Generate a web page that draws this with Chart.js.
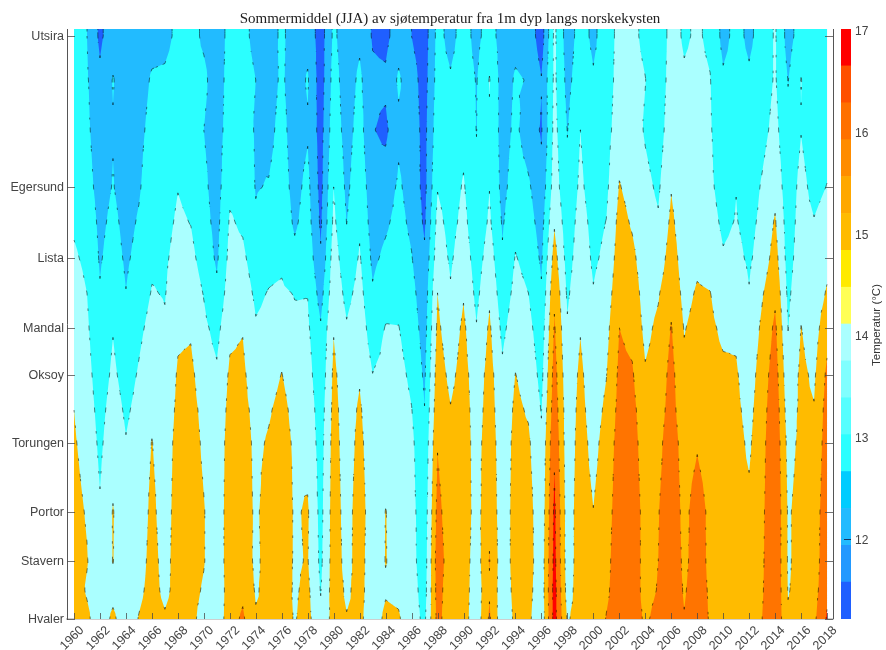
<!DOCTYPE html>
<html><head><meta charset="utf-8">
<style>html,body{margin:0;padding:0;background:#fff;overflow:hidden}canvas{position:absolute;top:0}#main{left:0}#bar{left:836px}</style>
<script src="https://cdn.jsdelivr.net/npm/chart.js@4"></script></head><body>
<canvas id="main" width="886" height="650"></canvas>
<canvas id="bar" width="50" height="650"></canvas>
<script>
const titleText='Sommermiddel (JJA) av sjøtemperatur fra 1m dyp langs norskekysten';
const barTitle='Temperatur (°C)';
const stationNames=['Utsira','Egersund','Lista','Mandal','Oksoy','Torungen','Portor','Stavern','Hvaler'];
const stationPos=[7,158,229,299,346,414,483,532,590];
const rowPos=[7,51,101,158,193,229,264,299,346,381,414,483,532,561,590];
const yearTicks=[1960,1962,1964,1966,1968,1970,1972,1974,1976,1978,1980,1982,1984,1986,1988,1990,1992,1994,1996,1998,2000,2002,2004,2006,2008,2010,2012,2014,2016,2018];
const years=[];
const t1960=[13.3,13.4,13.6,13.8,13.9,14.1,14.3,14.5,14.8,15.0,15.1,15.3,15.4,15.5,15.6];
const t1961=[13.0,13.1,13.2,13.4,13.7,13.85,14.0,14.15,14.35,14.5,14.65,14.92,15.05,14.9,15.2];
const t1962=[11.8,12.2,12.4,12.6,12.75,12.9,13.07,13.2,13.45,13.65,13.8,14.1,14.3,14.5,14.4];
const t1963=[12.6,13.05,12.95,13.05,13.25,13.45,13.7,13.95,14.2,14.45,14.65,15.05,15.03,14.7,15.2];
const t1964=[12.5,12.5,12.5,12.55,12.7,12.85,13.02,13.3,13.6,13.85,14.05,14.3,14.3,14.4,14.4];
const t1965=[12.5,12.6,12.75,12.9,13.1,13.3,13.55,13.8,14.1,14.3,14.45,14.5,14.6,14.8,15.05];
const t1966=[12.7,13.1,13.3,13.55,13.7,13.85,14.05,14.3,14.6,14.8,15.03,15.2,15.3,15.3,15.4];
const t1967=[12.75,13.15,13.35,13.55,13.7,13.85,13.95,14.1,14.3,14.45,14.55,14.6,14.7,14.8,15.1];
const t1968=[13.2,13.4,13.6,13.97,14.15,14.35,14.6,14.85,15.1,15.2,15.3,15.4,15.4,15.3,15.4];
const t1969=[13.3,13.35,13.5,13.75,13.97,14.25,14.55,14.9,15.2,15.3,15.4,15.5,15.4,15.3,15.3];
const t1970=[12.85,13.2,13.0,13.2,13.35,13.6,13.95,14.2,14.5,14.75,14.85,15.05,15.05,14.9,14.6];
const t1971=[12.5,12.5,12.55,12.6,12.7,12.85,13.2,13.7,14.15,14.3,14.4,14.4,14.4,14.3,14.3];
const t1972=[13.3,13.4,13.5,13.8,14.1,14.3,14.55,14.8,15.15,15.3,15.4,15.5,15.5,15.5,15.6];
const t1973=[13.2,13.3,13.5,13.7,13.85,14.2,14.55,14.95,15.2,15.3,15.4,15.5,15.6,15.8,16.15];
const t1974=[12.8,13.0,12.9,12.95,13.1,13.45,13.8,14.1,14.4,14.7,14.8,14.85,14.8,14.9,15.1];
const t1975=[12.5,12.6,12.75,13.05,13.35,13.7,14.05,14.25,14.6,14.9,15.1,15.4,15.4,15.3,15.2];
const t1976=[13.2,13.15,13.3,13.4,13.6,13.8,14.15,14.55,15.03,15.3,15.4,15.6,15.5,15.4,15.3];
const t1977=[12.5,12.5,12.55,12.7,12.85,13.25,13.95,14.2,14.5,14.7,14.85,14.9,14.9,14.9,14.95];
const t1978=[12.7,13.1,12.9,13.25,13.4,13.65,13.97,14.15,14.4,14.6,14.7,15.1,15.05,15.2,15.3];
const t1979=[11.5,11.5,11.6,11.7,11.85,12.1,12.6,13.1,13.3,13.5,13.6,13.7,13.8,13.95,14.2];
const t1980=[13.2,13.4,13.6,14.0,14.2,14.5,14.7,14.95,15.2,15.3,15.4,15.5,15.5,15.5,15.4];
const t1981=[12.4,12.5,12.6,12.8,12.98,13.3,13.7,14.1,14.4,14.5,14.5,14.6,14.7,14.85,15.05];
const t1982=[12.8,13.2,13.4,13.65,13.85,14.1,14.35,14.6,14.9,15.15,15.3,15.5,15.4,15.3,15.2];
const t1983=[11.9,12.2,12.05,12.4,12.55,12.8,13.1,13.45,14.02,14.2,14.3,14.4,14.4,14.5,14.5];
const t1984=[11.7,12.2,11.8,12.5,12.85,13.2,13.6,14.05,14.3,14.5,14.6,15.02,15.03,14.9,15.2];
const t1985=[12.6,13.15,12.8,13.15,13.3,13.5,13.7,14.03,14.3,14.5,14.6,14.7,14.7,14.8,15.1];
const t1986=[12.0,12.4,12.5,12.6,12.8,13.05,13.3,13.5,13.8,14.03,14.2,14.3,14.3,14.4,14.4];
const t1987=[11.5,11.6,11.7,11.7,11.85,12.15,12.4,12.6,12.85,13.02,13.2,13.4,13.5,13.6,13.8];
const t1988=[13.3,13.4,13.6,13.95,14.3,14.6,15.0,15.2,15.5,15.7,15.95,16.3,16.5,16.4,16.3];
const t1989=[12.7,13.1,13.3,13.5,13.65,13.85,14.1,14.4,14.75,15.05,15.2,15.4,15.5,15.4,15.4];
const t1990=[13.4,13.5,13.7,14.1,14.3,14.6,14.92,15.2,15.4,15.5,15.5,15.6,15.5,15.5,15.4];
const t1991=[12.7,12.95,12.98,13.15,13.3,13.5,13.75,14.05,14.4,14.5,14.6,14.6,14.5,14.4,14.4];
const t1992=[13.5,14.05,13.9,13.98,14.15,14.5,14.85,15.15,15.4,15.5,15.6,15.8,16.05,15.9,16.15];
const t1993=[12.5,12.55,12.6,12.7,12.9,13.1,13.4,13.75,14.2,14.3,14.4,14.4,14.4,14.4,14.3];
const t1994=[12.75,13.1,13.2,13.5,13.75,14.05,14.3,14.6,15.02,15.2,15.3,15.4,15.4,15.3,15.2];
const t1995=[12.6,12.95,12.5,13.15,13.4,13.7,14.0,14.3,14.65,14.9,15.15,15.4,15.4,15.3,15.2];
const t1996=[11.5,12.05,11.9,12.3,12.6,12.85,13.1,13.4,13.7,13.95,14.15,14.3,14.4,14.4,14.3];
const t1997=[14.2,14.2,14.3,14.5,14.9,15.4,15.85,16.1,16.4,16.6,16.85,17.2,17.3,17.4,17.4];
const t1998=[12.5,12.7,12.97,13.2,13.4,13.6,13.85,14.1,14.3,14.4,14.4,14.5,14.5,14.6,14.9];
const t1999=[13.4,13.6,14.0,14.2,14.4,14.55,14.7,14.95,15.2,15.3,15.4,15.5,15.5,15.5,15.4];
const t2000=[12.8,13.1,13.3,13.5,13.7,13.85,14.05,14.2,14.4,14.55,14.7,15.02,15.1,15.05,15.2];
const t2001=[13.5,13.5,13.6,13.8,14.02,14.2,14.45,14.7,14.97,15.2,15.4,15.6,15.7,15.8,16.05];
const t2002=[14.3,14.4,14.6,15.05,15.3,15.5,15.75,16.0,16.2,16.3,16.4,16.5,16.6,16.6,16.6];
const t2003=[14.2,14.3,14.5,14.7,14.9,15.2,15.5,15.75,16.1,16.3,16.4,16.5,16.5,16.5,16.5];
const t2004=[13.8,14.02,13.9,14.25,14.4,14.5,14.6,14.75,15.1,15.35,15.5,15.7,15.7,15.7,15.85];
const t2005=[13.4,13.4,13.5,13.85,14.1,14.4,14.9,15.2,15.4,15.55,15.7,15.95,16.0,16.05,16.3];
const t2006=[14.3,14.4,14.6,14.95,15.2,15.5,15.75,16.05,16.3,16.4,16.6,16.7,16.7,16.7,16.7];
const t2007=[13.9,14.1,14.2,14.3,14.4,14.5,14.7,14.95,15.2,15.3,15.5,15.7,15.8,15.9,16.05];
const t2008=[14.1,14.2,14.3,14.45,14.6,14.8,15.1,15.3,15.5,15.7,15.9,16.5,16.4,16.5,16.6];
const t2009=[13.85,14.03,14.1,14.2,14.4,14.65,15.02,15.2,15.4,15.4,15.5,15.75,15.8,15.85,15.9];
const t2010=[12.7,13.15,13.3,13.55,13.8,14.1,14.45,14.8,15.2,15.4,15.45,15.5,15.5,15.5,15.4];
const t2011=[13.3,13.4,13.7,13.98,14.05,14.25,14.65,14.85,15.1,15.2,15.3,15.4,15.4,15.4,15.4];
const t2012=[12.8,13.15,13.3,13.5,13.7,13.85,14.05,14.25,14.5,14.7,14.85,15.2,15.4,15.4,15.4];
const t2013=[13.4,13.5,13.7,14.1,14.25,14.45,14.9,15.2,15.5,15.6,15.7,15.8,15.85,15.9,16.0];
const t2014=[14.1,14.1,14.3,14.7,15.1,15.4,15.8,16.2,16.5,16.7,16.8,16.9,16.9,16.9,16.9];
const t2015=[12.6,12.97,13.2,13.4,13.5,13.6,13.8,13.98,14.3,14.5,14.7,14.9,14.9,14.95,15.1];
const t2016=[13.5,14.03,13.97,14.3,14.4,14.55,14.75,15.02,15.2,15.2,15.2,15.3,15.3,15.3,15.4];
const t2017=[13.3,13.3,13.4,13.7,14.05,14.2,14.4,14.55,14.85,15.05,15.2,15.5,15.5,15.6,15.8];
const t2018=[13.4,13.4,13.6,14.03,14.4,14.7,15.1,15.65,16.2,16.4,16.5,16.6,16.7,16.8,17.1];
const temps=[t1960,t1961,t1962,t1963,t1964,t1965,t1966,t1967,t1968,t1969,t1970,t1971,t1972,t1973,t1974,t1975,t1976,t1977,t1978,t1979,t1980,t1981,t1982,t1983,t1984,t1985,t1986,t1987,t1988,t1989,t1990,t1991,t1992,t1993,t1994,t1995,t1996,t1997,t1998,t1999,t2000,t2001,t2002,t2003,t2004,t2005,t2006,t2007,t2008,t2009,t2010,t2011,t2012,t2013,t2014,t2015,t2016,t2017,t2018];
temps.forEach((_,i)=>years.push(1960+i));
// contour levels and fill colours (below the first level: first colour)
const levels=[12,13,14,15,16,17];
const levelColors=['#1f5fff','#22bbff','#2bffff','#aaffff','#ffbb00','#ff7400','#ff0000'];
// colour bar
const barEdges=[11.216,11.579,11.941,12.304,12.667,13.03,13.392,13.755,14.118,14.48,14.843,15.206,15.569,15.931,16.294,16.657,17.02];
const barColors=['#1f5fff','#2299ff','#22bbff','#00ccff','#2bffff','#55ffff','#80ffff','#aaffff','#ffff55','#ffea00','#ffbb00','#ffa800','#ff8c00','#ff7000','#ff5000','#ff0000'];
const barTicks=[12,13,14,15,16,17];
const barTickMarks=[12];

function clipAbove(tri,L){
  const out=[];
  for(let i=0;i<tri.length;i++){
    const a=tri[i],b=tri[(i+1)%tri.length];
    if(a[2]>=L)out.push(a);
    if((a[2]>=L)!==(b[2]>=L)){
      const f=(L-a[2])/(b[2]-a[2]);
      out.push([a[0]+(b[0]-a[0])*f,a[1]+(b[1]-a[1])*f,L]);
    }
  }
  return out;
}
const contourPlugin={
  id:'contour',
  beforeDatasetsDraw(chart){
    const {ctx,scales:{x,y}}=chart;
    const rows=[0,...rowPos];
    const val=(i,j)=>temps[i][Math.max(0,j-1)];
    const tris=[];
    for(let i=0;i<years.length-1;i++)for(let j=0;j<rows.length-1;j++){
      const x0=x.getPixelForValue(years[i]),x1=x.getPixelForValue(years[i+1]);
      const y0=y.getPixelForValue(rows[j]),y1=y.getPixelForValue(rows[j+1]);
      const a=[x0,y0,val(i,j)],b=[x1,y0,val(i+1,j)],c=[x1,y1,val(i+1,j+1)],d=[x0,y1,val(i,j+1)];
      const m=[(x0+x1)/2,(y0+y1)/2,(a[2]+b[2]+c[2]+d[2])/4];
      tris.push([a,b,m],[b,c,m],[c,d,m],[d,a,m]);
    }
    ctx.save();
    const lx0=x.getPixelForValue(years[0]),lx1=x.getPixelForValue(years[years.length-1]);
    ctx.fillStyle=levelColors[0];
    ctx.fillRect(lx0,y.getPixelForValue(0),lx1-lx0,y.getPixelForValue(rows[rows.length-1])-y.getPixelForValue(0));
    const segs=[];
    levels.forEach((L,k)=>{
      ctx.beginPath();
      tris.forEach(t=>{
        const p=clipAbove(t,L);
        if(p.length<3)return;
        ctx.moveTo(p[0][0],p[0][1]);
        for(let n=1;n<p.length;n++)ctx.lineTo(p[n][0],p[n][1]);
        ctx.closePath();
        const e=p.filter(q=>q[2]===L&&!t.includes(q));
        if(e.length===2)segs.push(e);
      });
      ctx.fillStyle=levelColors[k+1];
      ctx.fill();
    });
    ctx.strokeStyle='rgba(0,0,0,0.55)';ctx.lineWidth=0.9;ctx.setLineDash([2.5,13]);
    segs.forEach(e=>{ctx.beginPath();ctx.moveTo(e[0][0],e[0][1]);ctx.lineTo(e[1][0],e[1][1]);ctx.stroke();});
    ctx.restore();
  },
  afterDraw(chart){
    const {ctx,chartArea:a,scales:{x,y}}=chart;
    ctx.save();
    ctx.strokeStyle='rgba(70,70,70,0.75)';ctx.lineWidth=1;
    ctx.beginPath();
    x.ticks.forEach(t=>{const p=Math.round(x.getPixelForValue(t.value))+.5;ctx.moveTo(p,a.bottom);ctx.lineTo(p,a.bottom-6);});
    y.ticks.forEach(t=>{const p=Math.round(y.getPixelForValue(t.value))+.5;ctx.moveTo(a.left,p);ctx.lineTo(a.left+8,p);ctx.moveTo(a.right,p);ctx.lineTo(a.right-8,p);});
    ctx.stroke();
    ctx.strokeStyle='#555';
    ctx.beginPath();ctx.moveTo(a.right+.5,a.top);ctx.lineTo(a.right+.5,a.bottom);ctx.stroke();
    ctx.restore();
  }
};
const barPlugin={
  id:'barTitle',
  afterDraw(chart){
    const {ctx,chartArea:a,scales:{y}}=chart;
    ctx.save();
    ctx.strokeStyle='rgba(20,20,60,0.8)';ctx.lineWidth=1;
    barTickMarks.forEach(v=>{const p=Math.round(y.getPixelForValue(v))+.5;ctx.beginPath();ctx.moveTo(a.right,p);ctx.lineTo(a.right-7,p);ctx.stroke();});
    ctx.translate(41,325);ctx.rotate(-Math.PI/2);
    ctx.fillStyle='#333';ctx.font='11.5px "Liberation Sans"';ctx.textAlign='center';ctx.textBaseline='middle';
    ctx.fillText(barTitle,0,0);
    ctx.restore();
  }
};
new Chart(document.getElementById('main'),{
  type:'scatter',
  data:{datasets:[{label:'Temperatur',pointRadius:0,showLine:false,
    data:years.flatMap((yr,i)=>rowPos.map((p,j)=>({x:yr,y:p,v:temps[i][j]})))}]},
  plugins:[contourPlugin],
  options:{responsive:false,animation:false,
    layout:{padding:{left:0,right:53,top:0,bottom:0}},
    plugins:{legend:{display:false},tooltip:{enabled:false},
      title:{display:true,text:titleText,fullSize:false,color:'#222',
        font:{family:'"Liberation Serif"',size:15,weight:'normal',lineHeight:1.2},
        padding:{top:10,bottom:1}}},
    scales:{
      x:{type:'linear',min:1959.46,max:2018.46,
        afterBuildTicks(s){s.ticks=yearTicks.map(v=>({value:v}));},
        afterFit(s){s.height=31;},
        grid:{display:false,drawTicks:false},
        border:{display:true,color:'#cfcfcf',width:2},
        ticks:{autoSkip:false,minRotation:45,maxRotation:45,padding:4,labelOffset:8,color:'#444',
          font:{family:'"Liberation Sans"',size:12.5},callback:v=>String(v)}},
      y:{type:'linear',reverse:true,min:0,max:590,
        afterBuildTicks(s){s.ticks=stationPos.map(v=>({value:v}));},
        afterFit(s){s.width=67;},
        grid:{display:false,drawTicks:false},
        border:{display:true,color:'#555',width:1},
        ticks:{autoSkip:false,padding:3,labelOffset:1,color:'#444',
          font:{family:'"Liberation Sans"',size:12.5},
          callback:v=>stationNames[stationPos.indexOf(v)]}}
    }
  }
});
new Chart(document.getElementById('bar'),{
  type:'bar',
  data:{labels:['T'],datasets:barColors.map((c,i)=>({label:String(i),data:[[barEdges[i],barEdges[i+1]]],backgroundColor:c,borderWidth:0,barPercentage:1,categoryPercentage:1,grouped:false}))},
  plugins:[barPlugin],
  options:{responsive:false,animation:false,
    layout:{padding:{left:5,right:0,top:29,bottom:31}},
    plugins:{legend:{display:false},tooltip:{enabled:false}},
    scales:{
      x:{display:false},
      y:{position:'right',min:11.216,max:17.02,
        afterBuildTicks(s){s.ticks=barTicks.map(v=>({value:v}));},
        afterFit(s){s.width=35;},
        grid:{display:false,drawTicks:false},border:{display:false},
        ticks:{autoSkip:false,padding:4,labelOffset:1,color:'#444',font:{family:'"Liberation Sans"',size:12},callback:v=>String(v)}}
    }
  }
});
</script></body></html>
